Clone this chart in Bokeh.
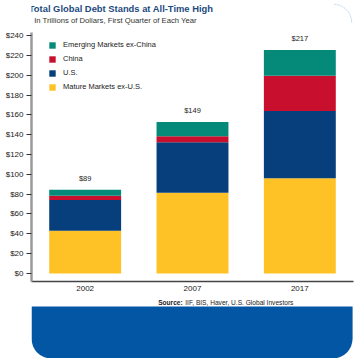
from bokeh.plotting import figure
from bokeh.models import (ColumnDataSource, Legend, LegendItem, FixedTicker, NumeralTickFormatter,
                          Label, BoxAnnotation, Range1d, FactorRange)
from bokeh.layouts import column
from bokeh.core.properties import value
from bokeh.embed import file_html
from bokeh.resources import INLINE

years = ["2002", "2007", "2017"]
mature = [43, 81.5, 96]
us = [31, 51, 68]
china = [4.5, 6, 35.5]
emerging = [6, 14.5, 26]
total_labels = ["$89", "$149", "$217"]
series = ["mature", "us", "china", "emerging"]
series_names = ["Mature Markets ex-U.S.", "U.S.", "China", "Emerging Markets ex-China"]
colors = ["#FEC227", "#063F7C", "#C8102E", "#058A7A"]
y_ticks = list(range(0, 241, 20))

FONT = "Liberation Sans, Arial, sans-serif"
W = 356


def blank(height):
    f = figure(width=W, height=height, x_range=Range1d(0, W), y_range=Range1d(0, height),
               output_backend="svg", toolbar_location=None, x_axis_location=None, y_axis_location=None,
               min_border_left=0, min_border_right=0, min_border_top=0, min_border_bottom=0)
    f.outline_line_color = None
    f.xgrid.grid_line_color = None
    f.ygrid.grid_line_color = None
    f.background_fill_color = "white"
    f.border_fill_color = "white"
    return f


# ---- header ----
HH = 28
head = blank(HH)
head.add_layout(Label(x=-3, y=HH - 8, text="Total Global Debt Stands at All-Time High",
                      text_font=FONT, text_font_style="bold", text_font_size="9.4px", text_color="#1B4A7E",
                      text_baseline="middle"))
head.add_layout(Label(x=3, y=HH - 19.5, text="In Trillions of Dollars, First Quarter of Each Year",
                      text_font=FONT, text_font_size="7.7px", text_color="#333333", text_baseline="middle"))
head.arc(x=[334], y=[HH - 22], radius=20, start_angle=0, end_angle=1.5708,
         line_color="#9CC3E6", line_width=1, line_dash="1 1")

# ---- main chart ----
totals = [a + b + c + d for a, b, c, d in zip(mature, us, china, emerging)]
src = ColumnDataSource(dict(year=years, mature=mature, us=us, china=china, emerging=emerging,
                            total=totals, lab=total_labels))

p = figure(width=W, height=269, x_range=FactorRange(*years), y_range=Range1d(-8.2, 243.3),
           output_backend="svg", toolbar_location=None,
           min_border_left=31, min_border_right=3, min_border_top=4, min_border_bottom=16)
p.background_fill_color = "white"
p.border_fill_color = "white"
p.outline_line_color = None
p.xgrid.grid_line_color = None
p.ygrid.grid_line_color = None

rs = p.vbar_stack(series, x="year", width=0.67, color=colors, line_color=None, source=src)

p.text(x="year", y="total", text="lab", source=src, text_align="center", text_baseline="bottom",
       y_offset=-7, text_font=value(FONT), text_font_size="7.5px", text_color="#222222")

yax = p.yaxis[0]
yax.ticker = FixedTicker(ticks=y_ticks)
yax.formatter = NumeralTickFormatter(format="$0")
yax.axis_line_color = "#9a9a9a"
yax.axis_line_width = 2.5
yax.major_tick_out = 5
yax.major_tick_in = 0
yax.major_tick_line_color = "#333333"
yax.minor_tick_line_color = None
yax.major_label_standoff = 3
yax.major_label_text_font = FONT
yax.major_label_text_font_size = "8px"
yax.major_label_text_color = "#222222"

xax = p.xaxis[0]
xax.axis_line_color = "#444444"
xax.axis_line_width = 1.5
xax.major_tick_line_color = None
xax.major_tick_out = 0
xax.major_tick_in = 0
xax.minor_tick_line_color = None
xax.major_label_standoff = 4
xax.major_label_text_font = FONT
xax.major_label_text_font_size = "8px"
xax.major_label_text_color = "#222222"

items = [LegendItem(label=series_names[i], renderers=[rs[i]]) for i in [3, 2, 1, 0]]
legend = Legend(items=items, location=(17, 190), padding=0, margin=0, spacing=5,
                glyph_width=8, glyph_height=8, label_height=8, label_standoff=7,
                label_text_font=FONT, label_text_font_size="7.5px", label_text_color="#222222",
                background_fill_alpha=0, border_line_color=None)
p.add_layout(legend, "center")

# ---- footer ----
FH = 61
foot = blank(FH)
foot.add_layout(BoxAnnotation(left=0, right=355, top=FH - 9, bottom=0, fill_color="#0356A4", fill_alpha=1,
                              line_color=None,
                              border_radius=dict(top_left=0, top_right=0, bottom_right=20, bottom_left=20)))
foot.add_layout(Label(x=140, y=FH - 5, text="Source:", text_font=FONT, text_font_style="bold",
                      text_font_size="6.6px", text_color="#222222", text_baseline="middle"))
foot.add_layout(Label(x=170, y=FH - 5, text="IIF, BIS, Haver, U.S. Global Investors", text_font=FONT,
                      text_font_size="6.6px", text_color="#222222", text_baseline="middle"))

layout = column(head, p, foot, spacing=0)
open("out.html", "w").write(file_html(layout, INLINE))
